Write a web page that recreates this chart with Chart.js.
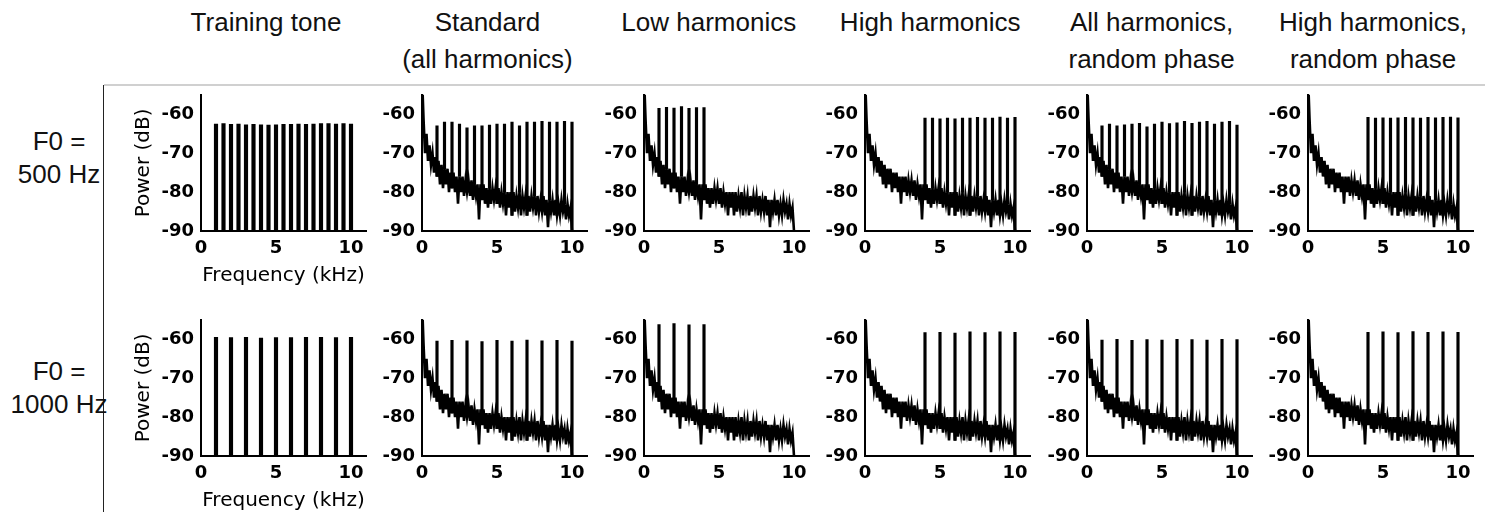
<!DOCTYPE html>
<html>
<head>
<meta charset="utf-8">
<script src="https://cdn.jsdelivr.net/npm/chart.js@4"></script>
<style>
  body { margin: 0; width: 1485px; height: 512px; background: #fff; position: relative; overflow: hidden;
         font-family: "Liberation Sans", Arial, sans-serif; color: #111; }
  .hdr { position: absolute; top: 4px; width: 240px; margin-left: -120px; text-align: center; font-size: 26px; line-height: 37px; }
  .rowlbl { position: absolute; left: 0; width: 118px; text-align: center; font-size: 26px; line-height: 33px; }
  canvas { position: absolute; }
</style>
</head>
<body>
<div style="position:absolute;left:104px;top:84px;width:1381px;height:2px;background:#d0d0d0"></div>
<div style="position:absolute;left:103px;top:85px;width:1px;height:427px;background:#222"></div>
<script>
// axis limits (kHz, dB) and tick values
const xMin = 0, xMax = 11;
const yMin = -90, yMax = -55;
const xTicks = [0, 5, 10];
const yTicks = [-90, -80, -70, -60];

// column headers and row labels
const columnTitles = [["Training tone"], ["Standard", "(all harmonics)"], ["Low harmonics"], ["High harmonics"],
                      ["All harmonics,", "random phase"], ["High harmonics,", "random phase"]];
const rowTitles = [["F0 =", "500 Hz"], ["F0 =", "1000 Hz"]];

// background noise floor, one value every 0.1 kHz from 0 to 10 kHz (dB)
const floorStep = 0.1;
const floorDb = [
  -50, -61, -70, -65, -72, -68, -73, -70, -75, -71,
  -76, -72, -78, -73, -79, -74, -78, -74, -80, -75,
  -79, -75, -80, -76, -83, -76, -80, -76, -81, -77,
  -80, -77, -81, -77, -82, -78, -81, -78, -87, -78,
  -82, -78, -83, -79, -84, -79, -83, -79, -82, -79,
  -83, -79, -84, -80, -83, -80, -86, -80, -84, -80,
  -86, -80, -85, -81, -84, -80, -86, -81, -84, -81,
  -86, -81, -85, -81, -84, -81, -86, -81, -85, -82,
  -85, -81, -86, -82, -89, -82, -85, -82, -86, -82,
  -86, -83, -86, -82, -85, -83, -87, -83, -86, -84,
  -90
];

// harmonic frequencies (kHz)
const harm500 = [1, 1.5, 2, 2.5, 3, 3.5, 4, 4.5, 5, 5.5, 6, 6.5, 7, 7.5, 8, 8.5, 9, 9.5, 10];
const harm500Low = [1, 1.5, 2, 2.5, 3, 3.5, 4];
const harm500High = [4, 4.5, 5, 5.5, 6, 6.5, 7, 7.5, 8, 8.5, 9, 9.5, 10];
const harm1000 = [1, 2, 3, 4, 5, 6, 7, 8, 9, 10];
const harm1000Low = [1, 2, 3, 4];
const harm1000High = [4, 5, 6, 7, 8, 9, 10];

// peak level of each harmonic (dB)
const peak500Train = [-62.5, -62.4, -62.6, -62.5, -62.7, -62.6, -62.7, -62.8, -62.7, -62.6, -62.6, -62.5, -62.6, -62.5, -62.4, -62.4, -62.5, -62.4, -62.5];
const peak500Std = [-63, -62, -62, -62.5, -63.5, -63, -63, -62.8, -62.5, -62.5, -62, -63, -62, -62, -61.8, -62, -62, -61.8, -62];
const peak500Low = [-58.5, -58.2, -58.4, -58, -58.5, -58.3, -58.3];
const peak500High = [-61, -61, -61.2, -61, -61.2, -61, -61, -60.8, -61, -61, -60.7, -61, -60.8];
const peak500AllRnd = [-63, -62.5, -63, -62.7, -62.5, -62.3, -63.2, -62.5, -62, -62.4, -62.2, -61.8, -62.3, -62, -61.8, -62.5, -62, -61.8, -62.8];
const peak500HighRnd = [-60.8, -61, -60.9, -61, -60.9, -60.8, -60.9, -61, -60.8, -60.9, -60.8, -60.7, -60.9];
const peak1000Train = [-59.5, -59.6, -59.5, -59.7, -59.6, -59.6, -59.5, -59.5, -59.6, -59.5];
const peak1000Std = [-60.5, -60.3, -60.4, -60.6, -60.3, -60.5, -60.2, -60.4, -60.3, -60.5];
const peak1000Low = [-56.2, -56, -56.3, -56.2];
const peak1000High = [-58.3, -58.2, -58.4, -58.1, -58.3, -58.1, -58.2];
const peak1000AllRnd = [-60.2, -60, -60.3, -60.1, -60.2, -60, -60.1, -60.2, -60, -60.1];
const peak1000HighRnd = [-58.2, -58.1, -58.3, -58, -58.2, -58.1, -58.2];

// panels: row, column, harmonics, peaks, has noise floor
const panels = [
  {row: 0, col: 0, freqs: harm500, peaks: peak500Train, noise: false},
  {row: 0, col: 1, freqs: harm500, peaks: peak500Std, noise: true},
  {row: 0, col: 2, freqs: harm500Low, peaks: peak500Low, noise: true},
  {row: 0, col: 3, freqs: harm500High, peaks: peak500High, noise: true},
  {row: 0, col: 4, freqs: harm500, peaks: peak500AllRnd, noise: true},
  {row: 0, col: 5, freqs: harm500High, peaks: peak500HighRnd, noise: true},
  {row: 1, col: 0, freqs: harm1000, peaks: peak1000Train, noise: false},
  {row: 1, col: 1, freqs: harm1000, peaks: peak1000Std, noise: true},
  {row: 1, col: 2, freqs: harm1000Low, peaks: peak1000Low, noise: true},
  {row: 1, col: 3, freqs: harm1000High, peaks: peak1000High, noise: true},
  {row: 1, col: 4, freqs: harm1000, peaks: peak1000AllRnd, noise: true},
  {row: 1, col: 5, freqs: harm1000High, peaks: peak1000HighRnd, noise: true}
];

// layout of the grid (pixels)
const originX = [201, 422.4, 643.8, 865.2, 1086.6, 1308];
const plotTop = [87, 312];
const padLeft = 75, padTop = 10, padRight = 15, axisBottom = 60;
const plotW = 165, plotH = 144;

const tickFont = {family: "'DejaVu Sans', sans-serif", size: 18, weight: 'bold'};
const titleFont = {family: "'DejaVu Sans', sans-serif", size: 20};

// header text
columnTitles.forEach((lines, c) => {
  const d = document.createElement('div');
  d.className = 'hdr';
  d.style.left = (originX[c] + 65) + 'px';
  d.innerHTML = lines.join('<br>');
  document.body.appendChild(d);
});
rowTitles.forEach((lines, r) => {
  const d = document.createElement('div');
  d.className = 'rowlbl';
  d.style.top = (r === 0 ? 124.5 : 355) + 'px';
  d.innerHTML = lines.join('<br>');
  document.body.appendChild(d);
});

function makePanel (p) {
  const cv = document.createElement('canvas');
  cv.width = padLeft + plotW + padRight;
  cv.height = padTop + plotH + axisBottom;
  cv.style.left = Math.round(originX[p.col] - padLeft) + 'px';
  cv.style.top = (plotTop[p.row] - padTop) + 'px';
  document.body.appendChild(cv);

  const datasets = [];
  if (p.noise) {
    datasets.push({
      type: 'line',
      data: floorDb.map((v, i) => ({x: i * floorStep, y: v})),
      borderColor: '#000', borderWidth: 2.6, pointRadius: 0, tension: 0, borderJoinStyle: 'miter'
    });
  }
  // each harmonic is a spike from the floor (or the bottom) up to its peak
  datasets.push({
    type: 'bar',
    data: p.freqs.map((f, i) => ({x: f, y: [p.noise ? floorDb[Math.round(f / floorStep)] : yMin, p.peaks[i]]})),
    backgroundColor: '#000', borderWidth: 0, barThickness: p.noise ? 2.5 : 3.5, grouped: false
  });

  const first = p.col === 0;
  new Chart(cv, {
    type: 'line',
    data: {datasets: datasets},
    options: {
      responsive: false, animation: false, devicePixelRatio: 1,
      layout: {padding: {left: 0, top: padTop, right: padRight, bottom: 0}},
      plugins: {legend: {display: false}, tooltip: {enabled: false}},
      scales: {
        x: {
          type: 'linear', min: xMin, max: xMax, offset: false,
          afterBuildTicks: s => { s.ticks = xTicks.map(v => ({value: v})); },
          afterFit: s => { s.height = axisBottom; },
          grid: {display: false, drawTicks: false},
          border: {display: true, color: '#000', width: 2},
          ticks: {color: '#000', font: tickFont, padding: 7, maxRotation: 0, autoSkip: false},
          title: {display: first, text: 'Frequency (kHz)', color: '#000', font: titleFont, padding: {top: 0, bottom: 3}}
        },
        y: {
          type: 'linear', min: yMin, max: yMax,
          afterBuildTicks: s => { s.ticks = yTicks.map(v => ({value: v})); },
          afterFit: s => { s.width = padLeft; },
          grid: {display: false, drawTicks: false},
          border: {display: true, color: '#000', width: 2},
          ticks: {color: '#000', font: tickFont, padding: 7, autoSkip: false},
          title: {display: first, text: 'Power (dB)', color: '#000', font: titleFont, padding: {top: 6, bottom: 0}}
        }
      }
    }
  });
}

panels.forEach(makePanel);
</script>
</body>
</html>
